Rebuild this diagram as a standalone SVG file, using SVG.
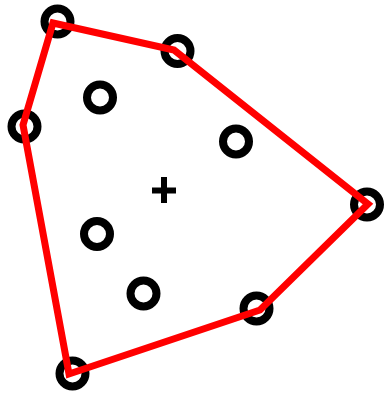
<svg xmlns="http://www.w3.org/2000/svg" width="385" height="394" viewBox="0 0 385 394">
<style>
.pt{fill:none;stroke:#000;stroke-width:8}
.hull{fill:none;stroke:#f00;stroke-width:7;stroke-linejoin:miter}
.plus{stroke:#000;stroke-width:6}
</style>
<rect width="385" height="394" fill="#fff"/>
<g id="points">
<circle class="pt" cx="57.5" cy="21.5" r="13"/>
<circle class="pt" cx="177.5" cy="51" r="13"/>
<circle class="pt" cx="24.5" cy="126.5" r="13"/>
<circle class="pt" cx="100" cy="97.5" r="13"/>
<circle class="pt" cx="236" cy="141.5" r="13"/>
<circle class="pt" cx="367" cy="204.5" r="13"/>
<circle class="pt" cx="256.5" cy="308.5" r="13"/>
<circle class="pt" cx="97" cy="234" r="13"/>
<circle class="pt" cx="143.5" cy="293.5" r="13"/>
<circle class="pt" cx="72.5" cy="373.5" r="13"/>
</g>
<g id="connectors">
<polygon class="hull" points="53,23 174,50 368,204 260,310 69,374 23,125"/>
</g>
<g id="centroid">
<line class="plus" x1="152" y1="190.5" x2="176" y2="190.5"/>
<line class="plus" x1="164" y1="177" x2="164" y2="203"/>
</g>
</svg>
